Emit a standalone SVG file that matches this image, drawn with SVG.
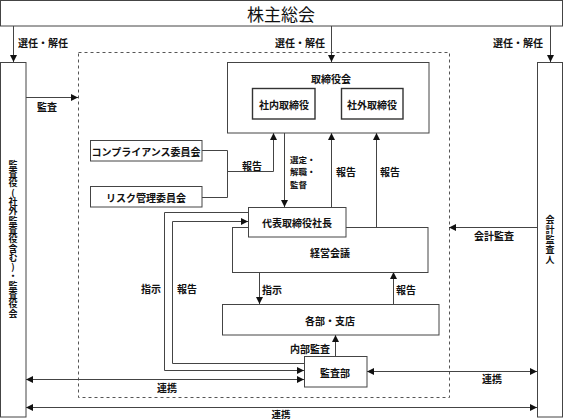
<svg xmlns="http://www.w3.org/2000/svg" width="563" height="420" viewBox="0 0 563 420">
<style>
.box{fill:#fff;stroke:#444;stroke-width:1}
.ibox{fill:#fff;stroke:#333;stroke-width:1.4}
.ln{fill:none;stroke:#444;stroke-width:1}
.dash{fill:none;stroke:#555;stroke-width:1;stroke-dasharray:3 3}
text{font-family:"Noto Sans CJK JP","Noto Sans CJK SC",sans-serif;font-size:10px;font-weight:bold;fill:#111}
.c{text-anchor:middle;dominant-baseline:central}
.l{dominant-baseline:central}
.v{writing-mode:vertical-rl;text-orientation:upright;text-anchor:middle}
</style>
<defs>
<marker id="ah" markerUnits="userSpaceOnUse" markerWidth="8" markerHeight="8" refX="7" refY="4" orient="auto-start-reverse" viewBox="0 0 8 8">
<path d="M0,0.5 L7,4 L0,7.5 Z" fill="#111"/>
</marker>
</defs>
<rect width="563" height="420" fill="#fff"/>
<g id="dashed-frame"><rect class="dash" x="78.5" y="52.5" width="371" height="345"/></g>
<g id="connectors">
<path class="ln" d="M13.5,26 V62" marker-end="url(#ah)"/>
<path class="ln" d="M331.5,26 V62" marker-end="url(#ah)"/>
<path class="ln" d="M550.5,26 V62" marker-end="url(#ah)"/>
<path class="ln" d="M26,97.5 H78" marker-end="url(#ah)"/>
<path class="ln" d="M537,227.5 H449" marker-end="url(#ah)"/>
<path class="ln" d="M202,150.5 H227.5 V197.5 H202"/>
<path class="ln" d="M227.5,171.5 H273.5 V133" marker-end="url(#ah)"/>
<path class="ln" d="M284.5,133 V207" marker-end="url(#ah)"/>
<path class="ln" d="M331.5,207 V133" marker-end="url(#ah)"/>
<path class="ln" d="M376.5,227 V133" marker-end="url(#ah)"/>
<path class="ln" d="M259.5,272 V304" marker-end="url(#ah)"/>
<path class="ln" d="M393.5,304 V272" marker-end="url(#ah)"/>
<path class="ln" d="M335.5,356 V335" marker-end="url(#ah)"/>
<path class="ln" d="M248,212.5 H164.5 V370.5 H304" marker-end="url(#ah)"/>
<path class="ln" d="M304,363.5 H172.5 V221.5 H248" marker-end="url(#ah)"/>
<path class="ln" d="M26,379.5 H304" marker-start="url(#ah)" marker-end="url(#ah)"/>
<path class="ln" d="M367,371.5 H537" marker-start="url(#ah)" marker-end="url(#ah)"/>
<path class="ln" d="M26,407.5 H537" marker-start="url(#ah)" marker-end="url(#ah)"/>
</g>
<g id="labels">
<text class="c" x="43" y="42">選任・解任</text>
<text class="c" x="300" y="42">選任・解任</text>
<text class="c" x="518" y="42">選任・解任</text>
<text class="c" x="47" y="106">監査</text>
<text class="c" x="252" y="165">報告</text>
<text class="l" x="290" y="158.5" style="font-size:8.5px"><tspan x="290" y="158.5">選定・</tspan><tspan x="290" y="171">解職・</tspan><tspan x="290" y="183.5">監督</tspan></text>
<text class="l" x="336" y="171">報告</text>
<text class="l" x="380" y="171">報告</text>
<text class="c" x="494" y="235">会計監査</text>
<text class="c" x="151" y="288">指示</text>
<text class="c" x="187" y="288">報告</text>
<text class="l" x="262" y="289">指示</text>
<text class="l" x="396" y="289">報告</text>
<text class="c" x="310" y="348">内部監査</text>
<text class="c" x="167" y="387">連携</text>
<text class="c" x="492" y="378">連携</text>
<text class="c" x="281" y="413.5" style="font-size:9.5px">連携</text>
</g>
<g id="shareholders"><rect class="box" x="0.5" y="0.5" width="562" height="25.5"/><text class="c" x="281" y="13.5" style="font-size:17px;font-weight:normal">株主総会</text></g>
<g id="auditors"><rect class="box" x="0.5" y="62.5" width="25.5" height="354.5"/><text class="v" x="13" y="239" style="font-size:9px;letter-spacing:0.3px">監査役(社外監査役含む)・監査役会</text></g>
<g id="accounting-auditor"><rect class="box" x="537.5" y="62.5" width="25" height="354.5"/><text class="v" x="550" y="240" style="font-size:9px;letter-spacing:1px">会計監査人</text></g>
<g id="board"><rect class="box" x="227.5" y="62.5" width="201.5" height="70.5"/><text class="c" x="331" y="78">取締役会</text></g>
<g id="inside-directors"><rect class="ibox" x="252.5" y="88.5" width="62.5" height="30.5"/><text class="c" x="284" y="104">社内取締役</text></g>
<g id="outside-directors"><rect class="ibox" x="341.5" y="88.5" width="61.5" height="30.5"/><text class="c" x="372" y="104">社外取締役</text></g>
<g id="compliance"><rect class="box" x="90.5" y="140.5" width="111.5" height="20.5"/><text class="c" x="146" y="151">コンプライアンス委員会</text></g>
<g id="risk"><rect class="box" x="90.5" y="186.5" width="111.5" height="20.5"/><text class="c" x="146" y="197">リスク管理委員会</text></g>
<g id="management-meeting"><rect class="box" x="232.5" y="227.5" width="195.5" height="45"/><text class="c" x="330" y="252">経営会議</text></g>
<g id="president"><rect class="box" x="248.5" y="207.5" width="97.5" height="29.5"/><text class="c" x="297" y="222.5">代表取締役社長</text></g>
<g id="departments"><rect class="box" x="222.5" y="304.5" width="216.5" height="30.5"/><text class="c" x="330" y="320">各部・支店</text></g>
<g id="audit-dept"><rect class="box" x="304.5" y="356.5" width="62.5" height="30.5"/><text class="c" x="335" y="372">監査部</text></g>
</svg>
